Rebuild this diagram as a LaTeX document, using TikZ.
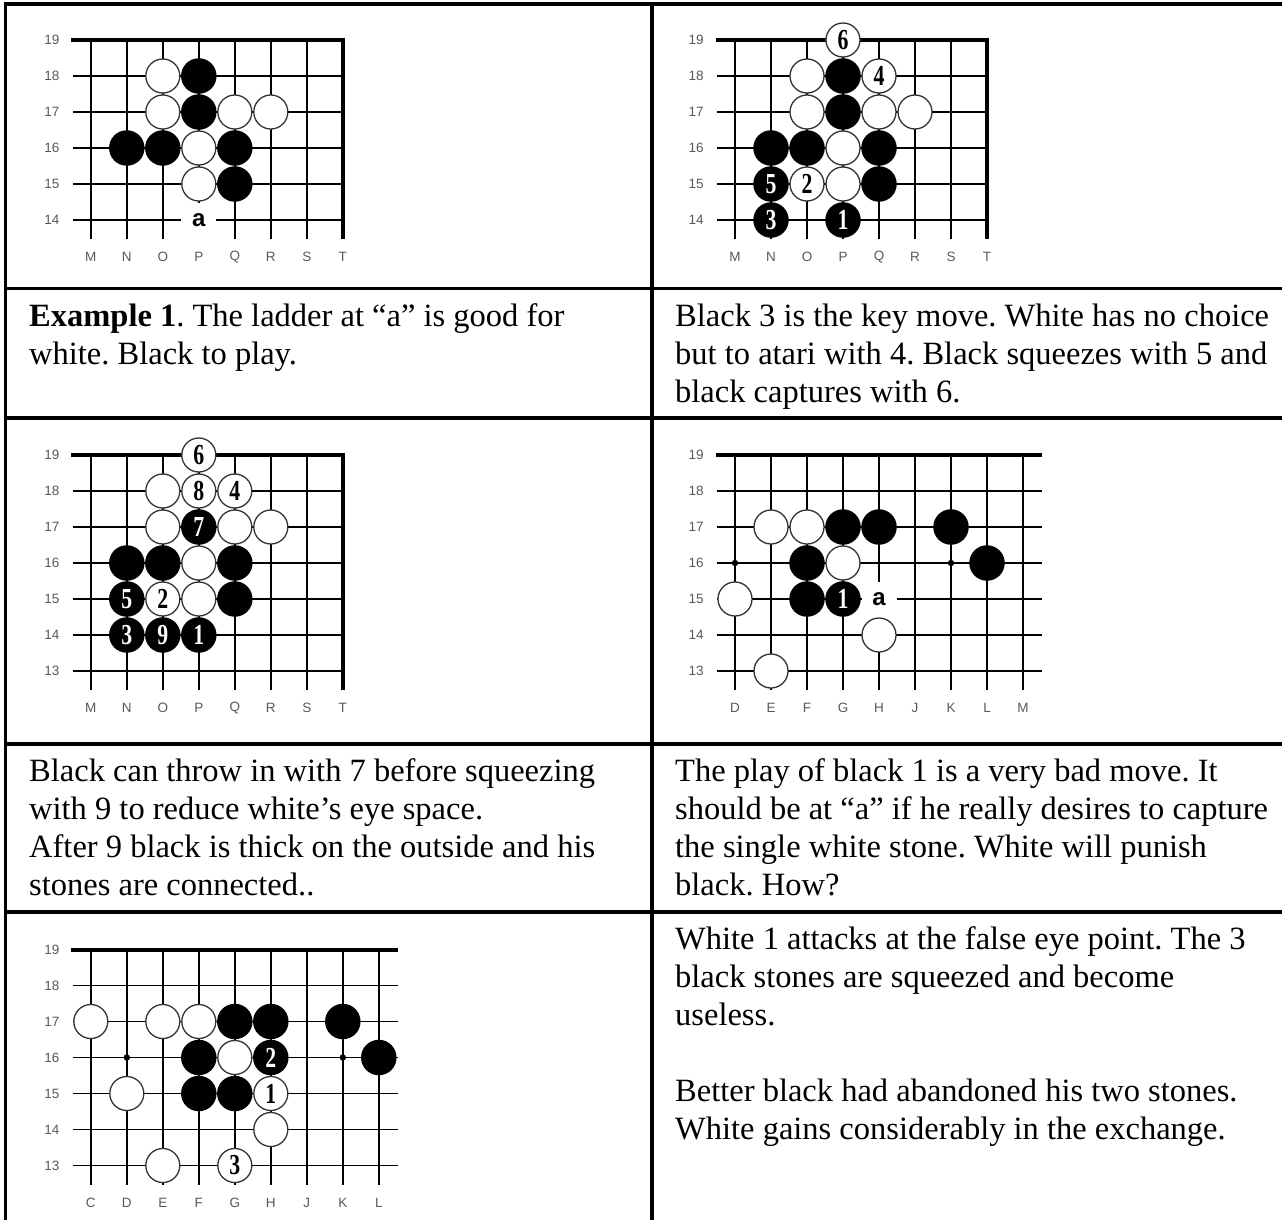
\documentclass[tikz,border=0pt]{standalone}
\usepackage{fontspec}
\setmainfont{Liberation Serif}
\newfontfamily\lblfam{Liberation Sans}
\frenchspacing
\newcommand\numfont{\fontsize{29}{29}\selectfont\bfseries}
\newcommand\goboard[8]{%
 \pgfmathsetmacro\gbR{#2+#4*36}%
 \pgfmathsetmacro\gbB{#3+#5*36}%
 \ifnum#8=1 \pgfmathsetmacro\gbE{\gbR}\pgfmathsetmacro\gbT{\gbR+2}\else\pgfmathsetmacro\gbE{\gbR+19}\pgfmathsetmacro\gbT{\gbR+19}\fi
 \foreach \r in {1,...,#5} {\draw[gline] (#2-18,#3+\r*36) -- (\gbE,#3+\r*36);}
 \foreach \c in {0,...,#4} {\draw[gline] (#2+\c*36,#3) -- (#2+\c*36,\gbB+19);}
 \ifnum#8=1 \draw[eline] (\gbR,#3-2) -- (\gbR,\gbB+19);\fi
 \draw[eline] (#2-19.5,#3) -- (\gbT,#3);
 \foreach \l [count=\i from 0] in {#6} {\node[clab] (#1c\i) at (#2+\i*36,\gbB+37) {\l};}
 \foreach \r in {0,...,#5} {\node[rlab] (#1r\r) at (#2-39,#3+\r*36) {\the\numexpr#7-\r\relax};}
}
\newcommand\wstone[4]{\node[wst] (#1) at ({\bx+#2*36},{\by+(19-#3)*36}) {\scalebox{0.75}[1]{#4}};}
\newcommand\bstone[4]{\node[bst] (#1) at ({\bx+#2*36},{\by+(19-#3)*36}) {\scalebox{0.75}[1]{#4}};}
\newcommand\hoshi[3]{\fill ({\bx+#2*36},{\by+(19-#3)*36}) circle (3.2);\coordinate (#1) at ({\bx+#2*36},{\by+(19-#3)*36});}
\newcommand\alab[3]{\fill[white] ({\bx+#2*36-17.5},{\by+(19-#3)*36-17.5}) rectangle ({\bx+#2*36+17.5},{\by+(19-#3)*36+20});\node[alabel] (#1) at ({\bx+#2*36},{\by+(19-#3)*36}) {a};}
\begin{document}
\begin{tikzpicture}[x=1pt,y=-1pt,
  tbl/.style={line width=3.2pt},
  gline/.style={line width=1.6pt},
  eline/.style={line width=4pt},
  clab/.style={inner sep=0pt,text=black!65,font=\lblfam\fontsize{13.5}{13.5}\selectfont},
  rlab/.style={inner sep=0pt,text=black!65,font=\lblfam\fontsize{13.5}{13.5}\selectfont},
  wst/.style={circle,draw=black!80,line width=1.3pt,fill=white,minimum size=34pt,inner sep=0pt,font=\numfont},
  bst/.style={circle,fill=black,minimum size=35.5pt,inner sep=0pt,text=white,font=\numfont},
  alabel/.style={inner sep=0pt,font=\lblfam\bfseries\fontsize{24}{24}\selectfont},
  txt/.style={anchor=base west,inner sep=0pt,font=\fontsize{32.5}{38}\selectfont}]
\useasboundingbox (0,0) rectangle (1282,1220);
\fill[white] (0,0) rectangle (1282,1220);
% table
\draw[tbl] (5.5,2.4) -- (5.5,1220);
\draw[tbl] (652,2.4) -- (652,1220);
\draw[tbl] (4,4) -- (1282,4);
\draw[tbl] (4,288.5) -- (1282,288.5);
\draw[tbl] (4,418) -- (1282,418);
\draw[tbl] (4,744) -- (1282,744);
\draw[tbl] (4,912) -- (1282,912);
% ---------- board 1
\goboard{bA}{90.8}{40}{7}{5}{M,N,O,P,Q,R,S,T}{19}{1}
\def\bx{90.8}\def\by{40}
\wstone{a1}{2}{18}{}\wstone{a2}{2}{17}{}\wstone{a3}{4}{17}{}\wstone{a4}{5}{17}{}
\wstone{a5}{3}{16}{}\wstone{a6}{3}{15}{}
\bstone{a7}{3}{18}{}\bstone{a8}{3}{17}{}\bstone{a9}{1}{16}{}\bstone{a10}{2}{16}{}
\bstone{a11}{4}{16}{}\bstone{a12}{4}{15}{}
\alab{aa}{3}{14}
% ---------- board 2
\goboard{bB}{735}{40}{7}{5}{M,N,O,P,Q,R,S,T}{19}{1}
\def\bx{735}\def\by{40}
\wstone{b1}{2}{18}{}\wstone{b2}{2}{17}{}\wstone{b3}{4}{17}{}\wstone{b4}{5}{17}{}
\wstone{b5}{3}{16}{}\wstone{b6}{3}{15}{}
\bstone{b7}{3}{18}{}\bstone{b8}{3}{17}{}\bstone{b9}{1}{16}{}\bstone{b10}{2}{16}{}
\bstone{b11}{4}{16}{}\bstone{b12}{4}{15}{}
\wstone{b13}{3}{19}{6}\wstone{b14}{4}{18}{4}\wstone{b15}{2}{15}{2}
\bstone{b16}{1}{15}{5}\bstone{b17}{1}{14}{3}\bstone{b18}{3}{14}{1}
% ---------- board 3
\goboard{bC}{90.8}{455}{7}{6}{M,N,O,P,Q,R,S,T}{19}{1}
\def\bx{90.8}\def\by{455}
\wstone{c1}{3}{19}{6}
\wstone{c2}{2}{18}{}\wstone{c3}{3}{18}{8}\wstone{c4}{4}{18}{4}
\wstone{c5}{2}{17}{}\bstone{c6}{3}{17}{7}\wstone{c7}{4}{17}{}\wstone{c8}{5}{17}{}
\bstone{c9}{1}{16}{}\bstone{c10}{2}{16}{}\wstone{c11}{3}{16}{}\bstone{c12}{4}{16}{}
\bstone{c13}{1}{15}{5}\wstone{c14}{2}{15}{2}\wstone{c15}{3}{15}{}\bstone{c16}{4}{15}{}
\bstone{c17}{1}{14}{3}\bstone{c18}{2}{14}{9}\bstone{c19}{3}{14}{1}
% ---------- board 4
\goboard{bD}{735}{455}{8}{6}{D,E,F,G,H,J,K,L,M}{19}{0}
\def\bx{735}\def\by{455}
\hoshi{dh1}{0}{16}\hoshi{dh2}{6}{16}
\alab{da}{4}{15}
\wstone{d1}{1}{17}{}\wstone{d2}{2}{17}{}\wstone{d3}{3}{16}{}\wstone{d4}{0}{15}{}
\wstone{d5}{4}{14}{}\wstone{d6}{1}{13}{}
\bstone{d7}{3}{17}{}\bstone{d8}{4}{17}{}\bstone{d9}{6}{17}{}\bstone{d10}{2}{16}{}
\bstone{d11}{7}{16}{}\bstone{d12}{2}{15}{}\bstone{d13}{3}{15}{1}
% ---------- board 5
\goboard{bE}{90.8}{949.5}{8}{6}{C,D,E,F,G,H,J,K,L}{19}{0}
\def\bx{90.8}\def\by{949.5}
\hoshi{eh1}{1}{16}\hoshi{eh2}{7}{16}
\wstone{e1}{0}{17}{}\wstone{e2}{2}{17}{}\wstone{e3}{3}{17}{}\wstone{e4}{4}{16}{}
\wstone{e5}{1}{15}{}\wstone{e6}{5}{15}{1}\wstone{e7}{5}{14}{}\wstone{e8}{2}{13}{}
\wstone{e9}{4}{13}{3}
\bstone{e10}{4}{17}{}\bstone{e11}{5}{17}{}\bstone{e12}{7}{17}{}\bstone{e13}{3}{16}{}
\bstone{e14}{5}{16}{2}\bstone{e15}{8}{16}{}\bstone{e16}{3}{15}{}\bstone{e17}{4}{15}{}
% ---------- texts
\node[txt] (t1a) at (29,326) {{\bfseries Example 1}. The ladder at “a” is good for};
\node[txt] (t1b) at (29,364) {white. Black to play.};
\node[txt] (t2a) at (675,326) {Black 3 is the key move. White has no choice};
\node[txt] (t2b) at (675,364) {but to atari with 4. Black squeezes with 5 and};
\node[txt] (t2c) at (675,402) {black captures with 6.};
\node[txt] (t3a) at (29,781.5) {Black can throw in with 7 before squeezing};
\node[txt] (t3b) at (29,819.5) {with 9 to reduce white’s eye space.};
\node[txt] (t3c) at (29,857.5) {After 9 black is thick on the outside and his};
\node[txt] (t3d) at (29,895.5) {stones are connected..};
\node[txt] (t4a) at (675,781.5) {The play of black 1 is a very bad move. It};
\node[txt] (t4b) at (675,819.5) {should be at “a” if he really desires to capture};
\node[txt] (t4c) at (675,857.5) {the single white stone. White will punish};
\node[txt] (t4d) at (675,895.5) {black. How?};
\node[txt] (t5a) at (675,949.5) {White 1 attacks at the false eye point. The 3};
\node[txt] (t5b) at (675,987.5) {black stones are squeezed and become};
\node[txt] (t5c) at (675,1025.5) {useless.};
\node[txt] (t5d) at (675,1101.5) {Better black had abandoned his two stones.};
\node[txt] (t5e) at (675,1139.5) {White gains considerably in the exchange.};
\end{tikzpicture}
\end{document}
